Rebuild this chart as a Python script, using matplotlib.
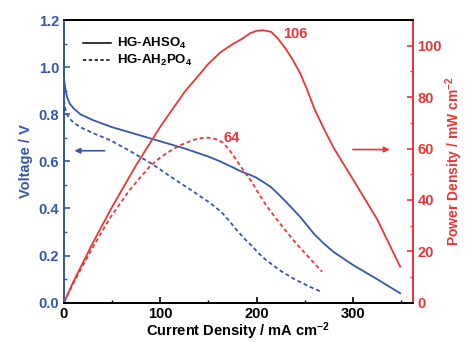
import matplotlib
matplotlib.use("Agg")
import matplotlib.pyplot as plt
from matplotlib.ticker import MultipleLocator, FormatStrFormatter

# polarisation data
cur_so4 = [0, 1, 3, 6, 10, 17, 30, 50, 75, 100, 125, 150, 162, 175, 185, 193, 200, 207, 215, 222, 230, 237,
           245, 252, 260, 270, 280, 300, 325, 349]
volt_so4 = [0.95, 0.92, 0.875, 0.845, 0.825, 0.80, 0.775, 0.745, 0.715, 0.685, 0.655, 0.62, 0.60, 0.575, 0.555,
            0.543, 0.53, 0.512, 0.49, 0.463, 0.43, 0.40, 0.365, 0.33, 0.29, 0.25, 0.215, 0.16, 0.10, 0.04]
pow_so4 = [0, 0.9, 2.6, 5.1, 8.3, 13.6, 23.3, 37.3, 53.6, 68.5, 81.9, 93.0, 97.3, 100.6, 102.7, 104.8, 105.8,
           106.0, 105.4, 102.8, 98.9, 94.8, 89.4, 83.2, 75.4, 67.5, 60.2, 48.0, 32.5, 14.0]

cur_po4 = [0, 1, 3, 6, 10, 17, 30, 48, 68, 89, 100, 110, 120, 135, 142, 150, 158, 165, 172, 180, 187, 195, 202,
           210, 225, 240, 255, 268]
volt_po4 = [0.86, 0.83, 0.80, 0.78, 0.765, 0.745, 0.72, 0.69, 0.645, 0.595, 0.565, 0.537, 0.51, 0.47, 0.45, 0.428,
            0.403, 0.378, 0.345, 0.305, 0.273, 0.241, 0.21, 0.18, 0.135, 0.098, 0.068, 0.045]
pow_po4 = [0, 0.8, 2.4, 4.7, 7.7, 12.7, 21.6, 33.1, 43.8, 53.0, 56.5, 59.0, 61.2, 63.4, 64.0, 64.2, 63.6, 62.3,
           59.3, 55.0, 51.0, 47.0, 42.5, 37.8, 30.4, 23.5, 17.3, 12.0]

peak_labels = [("106", 240, 104.7), ("64", 174, 64.1)]

BLUE = "#3556ab"
RED = "#ec3434"

plt.rcParams["font.family"] = ["Liberation Sans", "DejaVu Sans"]
plt.rcParams["font.weight"] = "bold"
plt.rcParams["axes.labelweight"] = "bold"
plt.rcParams["mathtext.fontset"] = "custom"
plt.rcParams["mathtext.rm"] = "Liberation Sans:bold"
plt.rcParams["mathtext.bf"] = "Liberation Sans:bold"
plt.rcParams["mathtext.default"] = "bf"

fig = plt.figure(figsize=(4.65, 3.42), dpi=100)
ax = fig.add_axes([0.1376, 0.1149, 0.75, 0.8266])
ax2 = ax.twinx()

# voltage curves
dash = (0, (2.2, 1.6))
l1, = ax.plot(cur_so4, volt_so4, color=BLUE, lw=1.3, label="HG-AHSO$_4$")
l2, = ax.plot(cur_po4, volt_po4, color=BLUE, lw=1.3, ls=dash, label="HG-AH$_2$PO$_4$")
# power curves
ax2.plot(cur_so4, pow_so4, color=RED, lw=1.3)
ax2.plot(cur_po4, pow_po4, color=RED, lw=1.3, ls=dash)

ax.set_xlim(0, 362)
ax.set_ylim(0, 1.2)
ax2.set_ylim(0, 110)

ax.xaxis.set_major_locator(MultipleLocator(100))
ax.xaxis.set_minor_locator(MultipleLocator(50))
ax.yaxis.set_major_locator(MultipleLocator(0.2))
ax.yaxis.set_minor_locator(MultipleLocator(0.1))
ax2.yaxis.set_major_locator(MultipleLocator(20))
ax2.yaxis.set_minor_locator(MultipleLocator(10))
ax.yaxis.set_major_formatter(FormatStrFormatter("%.1f"))

ax.tick_params(axis="x", which="both", direction="in", top=False, labelsize=10.5, pad=3)
ax.tick_params(axis="y", which="both", direction="in", colors=BLUE, labelsize=10.5)
ax2.tick_params(axis="y", which="both", direction="in", colors=RED, labelsize=10.5)
for a in (ax, ax2):
    a.tick_params(which="major", length=4, width=1.2)
    a.tick_params(which="minor", length=2.5, width=1)
    a.spines["left"].set_color(BLUE)
    a.spines["right"].set_color(RED)
    for s in a.spines.values():
        s.set_linewidth(1.3)
    for lbl in a.get_xticklabels() + a.get_yticklabels():
        lbl.set_fontweight("bold")

ax.set_xlabel("Current Density / mA cm$^{-2}$", fontsize=10.5, fontweight="bold", labelpad=0)
ax.set_ylabel("Voltage / V", fontsize=10.5, fontweight="bold", color=BLUE, labelpad=4)
ax2.set_ylabel("Power Density / mW cm$^{-2}$", fontsize=10, fontweight="bold", color=RED, labelpad=1)

leg = ax.legend(handles=[l1, l2], loc="upper left", bbox_to_anchor=(0.02, 0.985), frameon=False,
                prop={"size": 9.5, "weight": "bold"}, handlelength=2.1, handletextpad=0.5,
                labelspacing=0.15)
for h in leg.legend_handles:
    h.set_color("black")
    h.set_linewidth(1.1)

for txt, x, y in peak_labels:
    ax2.text(x, y, txt, color=RED, fontsize=10.5, fontweight="bold", ha="center", va="center")

ax.annotate("", xy=(8, 0.645), xytext=(45, 0.645),
            arrowprops=dict(arrowstyle="-|>", color=BLUE, lw=1.2, mutation_scale=8))
ax2.annotate("", xy=(341, 59.6), xytext=(297, 59.6),
             arrowprops=dict(arrowstyle="-|>", color=RED, lw=1.2, mutation_scale=8))

fig.savefig("out.png", dpi=100)
